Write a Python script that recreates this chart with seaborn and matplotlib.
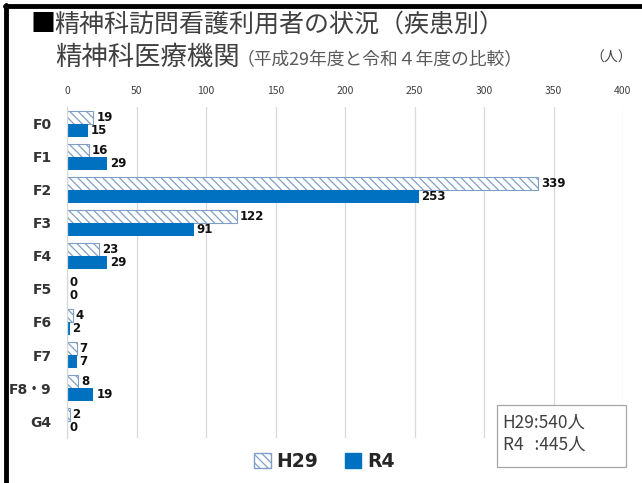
import matplotlib
matplotlib.use("Agg")
import matplotlib.pyplot as plt
import seaborn as sns
import pandas as pd
from matplotlib.patches import Patch, Rectangle
from matplotlib.lines import Line2D

categories = ["F0", "F1", "F2", "F3", "F4", "F5", "F6", "F7", "F8・9", "G4"]
h29_values = [19, 16, 339, 122, 23, 0, 4, 7, 8, 2]
r4_values = [15, 29, 253, 91, 29, 0, 2, 7, 19, 0]
series_names = ["H29", "R4"]
x_ticks = [0, 50, 100, 150, 200, 250, 300, 350, 400]

sns.set_theme(style="white")
plt.rcParams["font.family"] = ["Noto Sans CJK JP", "DejaVu Sans"]
plt.rcParams["hatch.linewidth"] = 0.9

df = pd.DataFrame({
    "category": categories * 2,
    "series": [series_names[0]] * len(categories) + [series_names[1]] * len(categories),
    "value": h29_values + r4_values,
})

fig = plt.figure(figsize=(6.42, 4.83), dpi=100)
ax = fig.add_axes([0.1044, 0.094, 0.866, 0.684])

blue = "#0070C0"
hatch_col = "#7F9FC8"
sns.barplot(data=df, y="category", x="value", hue="series", orient="h",
            palette={"H29": "white", "R4": blue}, width=0.8, saturation=1,
            legend=False, ax=ax, linewidth=0)

h_cont, r_cont = ax.containers[0], ax.containers[1]
for p in h_cont:
    p.set_hatch("\\\\\\\\")
    p.set_edgecolor(hatch_col)
    p.set_linewidth(0.8)
for p in r_cont:
    p.set_edgecolor(blue)
    p.set_linewidth(0)

ax.bar_label(h_cont, labels=[str(v) for v in h29_values], padding=2,
             fontsize=8.5, fontweight="bold", color="#111111", family="DejaVu Sans")
ax.bar_label(r_cont, labels=[str(v) for v in r4_values], padding=2,
             fontsize=8.5, fontweight="bold", color="#111111", family="DejaVu Sans")

ax.set_xlim(0, 400)
ax.set_ylim(9.5, -0.5)
ax.set_xticks(x_ticks)
ax.set_xticklabels([str(t) for t in x_ticks])
ax.xaxis.tick_top()
ax.tick_params(axis="x", length=0, pad=8, labelsize=7.5, labelcolor="#404040")
ax.tick_params(axis="y", length=0, pad=11, labelsize=10, labelcolor="#333333")
for lbl in ax.get_yticklabels():
    lbl.set_fontweight("bold")
    lbl.set_family(["DejaVu Sans", "Noto Sans CJK JP"])
ax.set_xlabel("")
ax.set_ylabel("")
ax.grid(axis="x", color="#D9D9D9", linewidth=0.9)
ax.set_axisbelow(True)
for s in ["top", "right", "bottom"]:
    ax.spines[s].set_visible(False)
ax.spines["left"].set_color("#D9D9D9")
ax.spines["left"].set_linewidth(0.9)

# frame lines (top and left)
fig.add_artist(Line2D([0.0075, 1.0], [0.9875, 0.9875], color="black", linewidth=3.5, transform=fig.transFigure))
fig.add_artist(Line2D([0.0095, 0.0095], [0.0, 0.99], color="black", linewidth=3.5, transform=fig.transFigure))

# titles
fig.text(0.047, 0.950, "■", fontsize=18, color="black", va="center", ha="left")
fig.text(0.084, 0.950, "精神科訪問看護利用者の状況（疾患別）", fontsize=18, color="#404040", va="center", ha="left")
fig.text(0.086, 0.880, "精神科医療機関", fontsize=19, color="#404040", va="center", ha="left")
fig.text(0.368, 0.878, "（平成29年度と令和４年度の比較）", fontsize=12.8, color="#595959", va="center", ha="left")
fig.text(0.984, 0.880, "（人）", fontsize=10, color="#404040", va="center", ha="right")

# legend
handles = [Patch(facecolor="white", edgecolor=hatch_col, hatch="\\\\\\\\", label="H29"),
           Patch(facecolor=blue, edgecolor=blue, label="R4")]
fig.legend(handles=handles, loc="center", bbox_to_anchor=(0.505, 0.045), ncol=2,
           frameon=False, handlelength=0.9, handleheight=0.9,
           handletextpad=0.3, columnspacing=1.4,
           prop={"size": 13.5, "family": "DejaVu Sans", "weight": "bold"})
for t in fig.legends[0].get_texts():
    t.set_color("#262626")

# total box
fig.add_artist(Rectangle((0.774, 0.033), 0.201, 0.128, transform=fig.transFigure,
                         facecolor="white", edgecolor="#A6A6A6", linewidth=0.9))
fig.text(0.783, 0.124, "H29:540人", fontsize=12.5, color="#404040", va="center", ha="left")
fig.text(0.783, 0.079, "R4\u2009\u2009 :445人", fontsize=12.5, color="#404040", va="center", ha="left")

fig.savefig("out.png", dpi=100)
